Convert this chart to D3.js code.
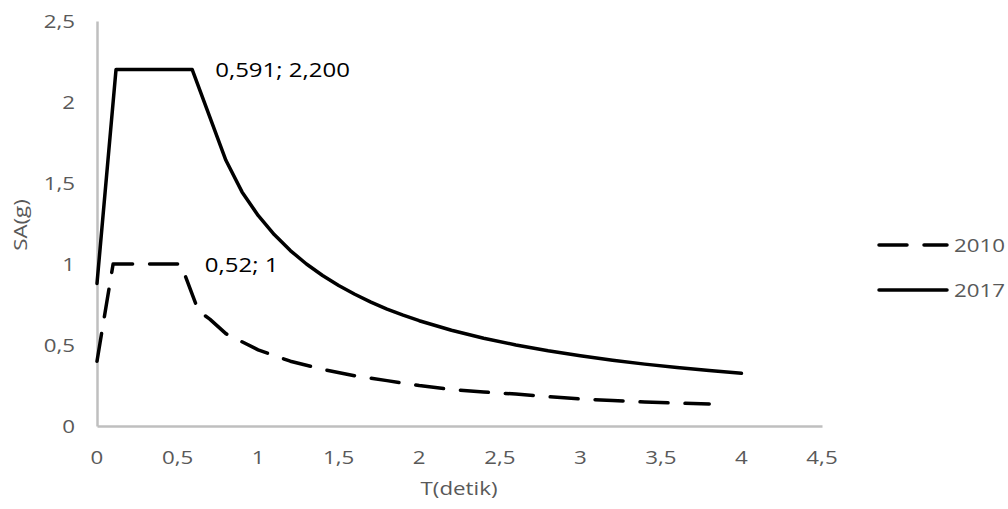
<!DOCTYPE html>
<html>
<head>
<meta charset="utf-8">
<script src="https://cdn.jsdelivr.net/npm/d3@7"></script>
<style>
  html, body { margin: 0; padding: 0; background: #fff; }
  svg { display: block; }
  text { font-family: "Open Sans", sans-serif; }
</style>
</head>
<body>
<svg id="chart" width="1008" height="509"></svg>
<script>
// ---- data ----
const t2010 = [0, 0.1, 0.52, 0.63, 0.7, 0.8, 0.9, 1.0, 1.2, 1.4, 1.6, 1.8, 2.0, 2.2, 2.4, 2.6, 2.8, 3.0, 3.2, 3.4, 3.6, 3.8];
const sa2010 = [0.4, 1.0, 1.0, 0.71, 0.66, 0.57, 0.52, 0.47, 0.40, 0.35, 0.31, 0.28, 0.25, 0.225, 0.21, 0.197, 0.181, 0.167, 0.157, 0.148, 0.141, 0.136];

const t2017 = [0, 0.118, 0.591, 0.8, 0.9, 1.0, 1.1, 1.2, 1.3, 1.4, 1.5, 1.6, 1.7, 1.8, 1.9, 2.0, 2.2, 2.4, 2.6, 2.8, 3.0, 3.2, 3.4, 3.6, 3.8, 4.0];
const sa2017 = [0.88, 2.2, 2.2, 1.64, 1.445, 1.300, 1.182, 1.083, 1.000, 0.929, 0.867, 0.813, 0.765, 0.722, 0.684, 0.650, 0.591, 0.542, 0.500, 0.464, 0.433, 0.406, 0.382, 0.361, 0.342, 0.325];

const xTicks = [0, 0.5, 1, 1.5, 2, 2.5, 3, 3.5, 4, 4.5];
const yTicks = [0, 0.5, 1, 1.5, 2, 2.5];
const seriesNames = ["2010", "2017"];
const labels = [
  { name: "2017", t: 0.591, v: 2.2, text: "0,591; 2,200" },
  { name: "2010", t: 0.52, v: 1.0, text: "0,52; 1" }
];
const xTitle = "T(detik)";
const yTitle = "SA(g)";

// ---- layout ----
const svg = d3.select("#chart");
const x = d3.scaleLinear().domain([0, 4.5]).range([97, 822]);
const y = d3.scaleLinear().domain([0, 2.5]).range([426, 21]);
const fmt = v => String(v).replace(".", ",");
const gray = "#595959";
const SX = 1.24;   // horizontal stretch of the reference text
const FS = 18;

function stext(g, px, py, str, size, color, anchor, sx) {
  return g.append("text")
    .attr("transform", `translate(${px},${py}) scale(${sx || SX},1)`)
    .attr("text-anchor", anchor)
    .attr("font-size", size)
    .attr("fill", color)
    .text(str);
}

// axes (lines only, no tick marks)
const xAxis = d3.axisBottom(x).tickValues(xTicks).tickSize(0).tickFormat("");
const yAxis = d3.axisLeft(y).tickValues(yTicks).tickSize(0).tickFormat("");
const gx = svg.append("g").attr("transform", `translate(0,${y(0)})`).call(xAxis);
const gy = svg.append("g").attr("transform", `translate(${x(0)},0)`).call(yAxis);
[gx, gy].forEach(g => {
  g.select(".domain").attr("stroke", "#bfbfbf").attr("stroke-width", 2.5);
});

// tick labels
const tl = svg.append("g");
xTicks.forEach(v => stext(tl, x(v), 464, fmt(v), FS, gray, "middle"));
yTicks.forEach(v => stext(tl, 75, y(v) + 6.5, fmt(v), FS, gray, "end"));

// axis titles
stext(svg, 459, 495, xTitle, FS, gray, "middle");
svg.append("text")
  .attr("transform", `translate(27,225) rotate(-90) scale(${SX},1)`)
  .attr("text-anchor", "middle")
  .attr("font-size", FS)
  .attr("fill", gray)
  .text(yTitle);

// lines
const line = d3.line().x(d => x(d[0])).y(d => y(d[1]));
const d2010 = t2010.map((t, i) => [t, sa2010[i]]);
const d2017 = t2017.map((t, i) => [t, sa2017[i]]);
const styles = {
  "2010": { dash: "28 17" },
  "2017": { dash: null }
};
svg.append("path").datum(d2010)
  .attr("d", line).attr("fill", "none").attr("stroke", "#000")
  .attr("stroke-width", 3.5).attr("stroke-linejoin", "round").attr("stroke-linecap", "round")
  .attr("stroke-dasharray", styles["2010"].dash);
svg.append("path").datum(d2017)
  .attr("d", line).attr("fill", "none").attr("stroke", "#000")
  .attr("stroke-width", 3.5).attr("stroke-linejoin", "round").attr("stroke-linecap", "round");

// data labels
const lg = svg.append("g");
stext(lg, x(labels[0].t) + 23, y(labels[0].v) + 7, labels[0].text, 20, "#000", "start", 1.2);
stext(lg, x(labels[1].t) + 24, y(labels[1].v) + 8, labels[1].text, 20, "#000", "start", 1.2);

// legend
const leg = svg.append("g");
seriesNames.forEach((name, i) => {
  const ly = 245 + i * 45;
  leg.append("line")
    .attr("x1", 879).attr("x2", 947).attr("y1", ly).attr("y2", ly)
    .attr("stroke", "#000").attr("stroke-width", 3.5).attr("stroke-linecap", "round")
    .attr("stroke-dasharray", styles[name].dash);
  stext(leg, 954, ly + 6.5, name, FS, gray, "start");
});
</script>
</body>
</html>
